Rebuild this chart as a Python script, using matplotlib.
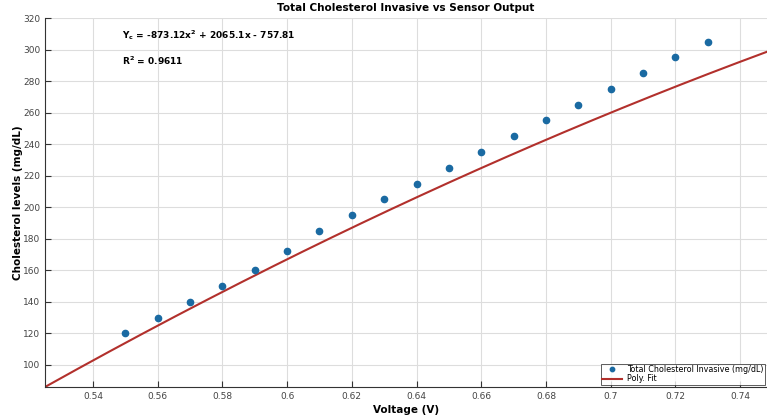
import numpy as np
import matplotlib.pyplot as plt

# invasive measurements vs sensor voltage
voltage = [0.55, 0.56, 0.57, 0.58, 0.59, 0.60, 0.61, 0.62, 0.63, 0.64,
           0.65, 0.66, 0.67, 0.68, 0.69, 0.70, 0.71, 0.72, 0.73]
cholesterol = [120, 130, 140, 150, 160, 172, 185, 195, 205, 215,
               225, 235, 245, 255, 265, 275, 285, 295, 305]

# poly fit coefficients (from the equation on the chart)
fit_coef = [-873.12, 2065.1, -757.81]

x_ticks = [0.54, 0.56, 0.58, 0.6, 0.62, 0.64, 0.66, 0.68, 0.7, 0.72, 0.74]
x_tick_labels = ['0.54', '0.56', '0.58', '0.6', '0.62', '0.64', '0.66', '0.68', '0.7', '0.72', '0.74']
y_ticks = [100, 120, 140, 160, 180, 200, 220, 240, 260, 280, 300, 320]

xmin, xmax = 0.5252, 0.7483
xfit = np.linspace(xmin, xmax, 200)
yfit = np.polyval(fit_coef, xfit)

fig = plt.figure(figsize=(7.67, 4.19), dpi=100)
ax = fig.add_axes([0.0587, 0.0764, 0.9413, 0.8806])

ax.plot(voltage, cholesterol, 'o', color='#1a6aa2', markersize=4.5,
        label='Total Cholesterol Invasive (mg/dL)', zorder=3)
ax.plot(xfit, yfit, '-', color='#b2302c', linewidth=1.5, label='Poly. Fit', zorder=2)

ax.set_xlim(xmin, xmax)
ax.set_ylim(np.polyval(fit_coef, xmin), 320)
ax.set_xticks(x_ticks)
ax.set_xticklabels(x_tick_labels)
ax.set_yticks(y_ticks)
ax.grid(True, color='#dddddd', linewidth=0.8)
ax.set_axisbelow(True)
ax.tick_params(direction='in', length=4, labelsize=6.5, labelcolor='#444444', color='#333333')
ax.spines['top'].set_visible(False)
ax.spines['right'].set_visible(False)
ax.spines['left'].set_color('#333333')
ax.spines['bottom'].set_color('#333333')

ax.set_title('Total Cholesterol Invasive vs Sensor Output', fontsize=7.5, fontweight='bold', pad=5)
ax.set_xlabel('Voltage (V)', fontsize=7.5, fontweight='bold', labelpad=3)
ax.set_ylabel('Cholesterol levels (mg/dL)', fontsize=7.5, fontweight='bold')
ax.yaxis.set_label_coords(-0.031, 0.5)

ax.text(0.107, 0.954, r'$\mathbf{Y_c}$ = -873.12x$^\mathbf{2}$ + 2065.1x - 757.81',
        transform=ax.transAxes, fontsize=6.5, fontweight='bold', va='center')
ax.text(0.107, 0.883, r'$\mathbf{R^2}$ = 0.9611',
        transform=ax.transAxes, fontsize=6.5, fontweight='bold', va='center')

leg = ax.legend(loc='lower right', fontsize=5.8, frameon=True, fancybox=False,
                edgecolor='#333333', borderpad=0.15, labelspacing=0.05,
                handlelength=2.5, handletextpad=0.6, borderaxespad=0.3, markerscale=0.7)
leg.get_frame().set_linewidth(0.7)

fig.savefig('out.png', dpi=100)
